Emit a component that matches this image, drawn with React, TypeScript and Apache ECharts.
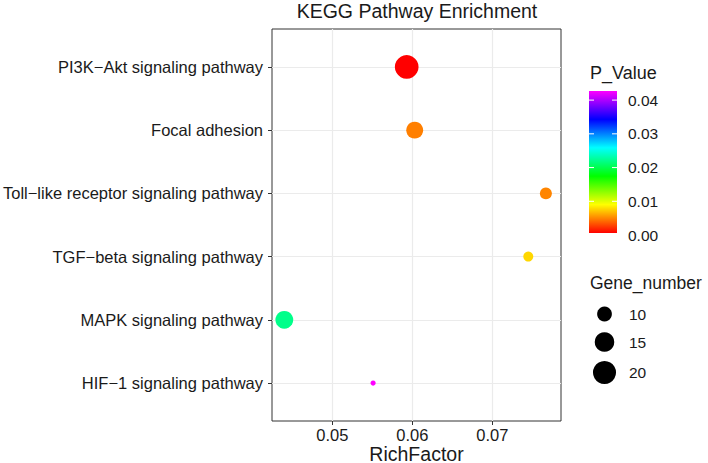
import React, { useEffect, useRef } from "react";
import * as echarts from "echarts";

const pathways = [
  "PI3K\u2212Akt signaling pathway",
  "Focal adhesion",
  "Toll\u2212like receptor signaling pathway",
  "TGF\u2212beta signaling pathway",
  "MAPK signaling pathway",
  "HIF\u22121 signaling pathway",
];
const richFactor = [0.0593, 0.0603, 0.0767, 0.0745, 0.044, 0.0551];
const geneNumber = [21, 12, 8, 7, 13, 6];
const pValue = [0.0006, 0.0048, 0.005, 0.0077, 0.022, 0.0427];
const xMajor = [0.05, 0.06, 0.07];
const xMinor = [0.045, 0.055, 0.065, 0.075];
const pTicks = [0, 0.01, 0.02, 0.03, 0.04];
const geneLegend = [10, 15, 20];
const rainbow = ["#FF0000", "#FFFF00", "#00FF00", "#00FFFF", "#0000FF", "#FF00FF"];

const FONT = "'Liberation Sans', Arial, Helvetica, sans-serif";
const TXT = "#1A1A1A";

const gMin = Math.min(...geneNumber);
const gMax = Math.max(...geneNumber);
const sizeOf = (g: number) => 1.5 + 3.7 * (1 + 5 * Math.sqrt(Math.max(0, (g - gMin) / (gMax - gMin))));
const pMin = Math.min(...pValue);
const pMax = Math.max(...pValue);
const n = pathways.length;

export default function App() {
  const ref = useRef<HTMLDivElement>(null);
  useEffect(() => {
    document.body.style.margin = "0";
    if (!ref.current) return;
    const chart = echarts.init(ref.current, null, { renderer: "svg" });

    const barTop = 91, barBottom = 233, barLeft = 589, barW = 28;
    const pY = (v: number) => barBottom - ((v - pMin) / (pMax - pMin)) * (barBottom - barTop);
    const gradStops = rainbow
      .slice()
      .reverse()
      .map((c, i) => ({ offset: i / (rainbow.length - 1), color: c }));

    const graphics: any[] = [
      {
        type: "text",
        style: { text: "KEGG Pathway Enrichment", x: 417, y: 11, textAlign: "center", textVerticalAlign: "middle", fontSize: 19.5, fontFamily: FONT, fill: TXT },
      },
      {
        type: "text",
        style: { text: "P_Value", x: 590, y: 73, textAlign: "left", textVerticalAlign: "middle", fontSize: 18, fontFamily: FONT, fill: TXT },
      },
      {
        type: "rect",
        shape: { x: barLeft, y: barTop, width: barW, height: barBottom - barTop },
        style: { fill: new echarts.graphic.LinearGradient(0, 0, 0, 1, gradStops) },
      },
    ];
    pTicks.forEach((v) => {
      const y = pY(v);
      if (y >= barTop && y <= barBottom) {
        graphics.push({ type: "line", shape: { x1: barLeft, y1: y, x2: barLeft + 5, y2: y }, style: { stroke: "#fff", lineWidth: 1 } });
        graphics.push({ type: "line", shape: { x1: barLeft + barW - 5, y1: y, x2: barLeft + barW, y2: y }, style: { stroke: "#fff", lineWidth: 1 } });
      }
      graphics.push({
        type: "text",
        style: { text: v.toFixed(2), x: 628, y: y, textAlign: "left", textVerticalAlign: "middle", fontSize: 15.5, fontFamily: FONT, fill: TXT },
      });
    });
    graphics.push({
      type: "text",
      style: { text: "Gene_number", x: 590, y: 283, textAlign: "left", textVerticalAlign: "middle", fontSize: 17.5, fontFamily: FONT, fill: TXT },
    });
    const legY = [314, 342, 372.5];
    geneLegend.forEach((g, i) => {
      graphics.push({ type: "circle", shape: { cx: 604.5, cy: legY[i], r: sizeOf(g) / 2 }, style: { fill: "#000" } });
      graphics.push({
        type: "text",
        style: { text: String(g), x: 629, y: legY[i], textAlign: "left", textVerticalAlign: "middle", fontSize: 15.5, fontFamily: FONT, fill: TXT },
      });
    });

    const data = pathways.map((_, i) => [richFactor[i], n - i, geneNumber[i], pValue[i]]);
    const yVals = pathways.map((_, i) => n - i);

    chart.setOption({
      animation: false,
      textStyle: { fontFamily: FONT },
      grid: {
        left: 272,
        right: 147,
        top: 29,
        bottom: 42,
        show: true,
        borderColor: "#333333",
        borderWidth: 1,
        backgroundColor: "#fff",
        containLabel: false,
        outerBoundsMode: "none",
      },
      xAxis: {
        type: "value",
        min: 0.04246,
        max: 0.07859,
        name: "RichFactor",
        nameLocation: "middle",
        nameGap: 24,
        nameMoveOverlap: false,
        nameTextStyle: { fontSize: 19.5, lineHeight: 18, color: TXT, fontFamily: FONT },
        axisLine: { show: false },
        splitLine: { show: false },
        axisTick: { show: true, length: 4, lineStyle: { color: "#333", width: 1 }, customValues: xMajor },
        axisLabel: { customValues: xMajor, formatter: (v: number) => v.toFixed(2), fontSize: 16.5, lineHeight: 16, color: TXT, margin: 6, fontFamily: FONT },
      },
      yAxis: {
        type: "value",
        min: 0.4,
        max: 6.6,
        axisLine: { show: false },
        splitLine: { show: false },
        axisTick: { show: true, length: 4, lineStyle: { color: "#333", width: 1 }, customValues: yVals },
        axisLabel: {
          customValues: yVals,
          formatter: (v: number) => pathways[n - Math.round(v)] ?? "",
          fontSize: 16.5,
          color: TXT,
          margin: 9,
          fontFamily: FONT,
        },
      },
      visualMap: {
        type: "continuous",
        show: false,
        seriesIndex: 0,
        dimension: 3,
        min: pMin,
        max: pMax,
        inRange: { color: rainbow },
      },
      series: [
        {
          type: "scatter",
          z: 3,
          data,
          symbolSize: (v: number[]) => sizeOf(v[2]),
          itemStyle: { opacity: 1 },
        },
        {
          type: "scatter",
          z: 1,
          data: [],
          markLine: {
            z: 1,
            silent: true,
            symbol: ["none", "none"],
            label: { show: false },
            lineStyle: { color: "#EBEBEB", type: "solid", width: 1.2 },
            data: [
              ...xMinor.map((v) => ({ xAxis: v, lineStyle: { color: "#F0F0F0", type: "solid", width: 0.7 } })),
              ...xMajor.map((v) => ({ xAxis: v })),
              ...yVals.map((v) => ({ yAxis: v })),
            ],
          },
        },
      ],
      graphic: graphics,
    });
    return () => chart.dispose();
  }, []);
  return <div ref={ref} style={{ width: 708, height: 463 }} />;
}
